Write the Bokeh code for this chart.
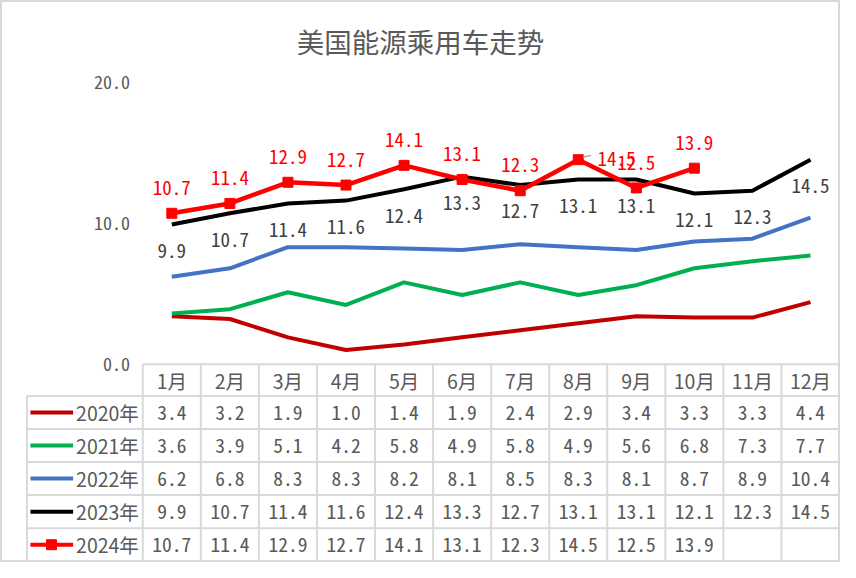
from bokeh.plotting import figure
from bokeh.models import Range1d
from bokeh.core.properties import value
from bokeh.embed import file_html
from bokeh.resources import INLINE

# ---------------- data ----------------
TITLE = "美国能源乘用车走势"
MONTHS = ["1月", "2月", "3月", "4月", "5月", "6月", "7月", "8月", "9月", "10月", "11月", "12月"]
YEARS = ["2020年", "2021年", "2022年", "2023年", "2024年"]
S2020 = [3.4, 3.2, 1.9, 1.0, 1.4, 1.9, 2.4, 2.9, 3.4, 3.3, 3.3, 4.4]
S2021 = [3.6, 3.9, 5.1, 4.2, 5.8, 4.9, 5.8, 4.9, 5.6, 6.8, 7.3, 7.7]
S2022 = [6.2, 6.8, 8.3, 8.3, 8.2, 8.1, 8.5, 8.3, 8.1, 8.7, 8.9, 10.4]
S2023 = [9.9, 10.7, 11.4, 11.6, 12.4, 13.3, 12.7, 13.1, 13.1, 12.1, 12.3, 14.5]
S2024 = [10.7, 11.4, 12.9, 12.7, 14.1, 13.1, 12.3, 14.5, 12.5, 13.9]
SERIES = [S2020, S2021, S2022, S2023, S2024]
Y_TICKS = [0, 10, 20]

# ---------------- style ----------------
COLORS = ["#C00000", "#00B050", "#4472C4", "#000000", "#FF0000"]
LINE_W = [4, 4, 4, 4, 4.5]
GRID_COLOR = "#D9D9D9"
TEXT_GRAY = "#595959"
LABEL_GRAY = "#404040"
CJK = value("Noto Sans CJK SC")
NUM = value("Noto Sans Mono CJK SC")

# ---------------- layout (reference pixel geometry, 856 x 578) ----------------
W, H = 840, 562
SX, OX = W / 856.0, 0.0     # reference px -> figure px
SY, OY = H / 578.0, 0.0
COL0, TABLE_RIGHT, TABLE_LEFT = 145.0, 855.0, 27.0
COLW = (TABLE_RIGHT - COL0) / 12
ZERO_Y, PX_PER_UNIT = 374.0, 14.5
HEADER_TOP, ROW0_TOP, ROW_H = 374.0, 406.7, 34.0
TABLE_BOTTOM = ROW0_TOP + 5 * ROW_H


def dx(rx):
    return (rx - COL0) / COLW + 0.5


def dy(ry):
    return (ZERO_Y - ry) / PX_PER_UNIT


def ux(px):
    return px / COLW


def uy(px):
    return px / PX_PER_UNIT


p = figure(
    width=W, height=H,
    x_range=Range1d(dx((0 - OX) / SX), dx((W - OX) / SX)),
    y_range=Range1d(dy((H - OY) / SY), dy((0 - OY) / SY)),
    output_backend="svg", toolbar_location=None,
    x_axis_location=None, y_axis_location=None, title=None,
    min_border=0,
)
p.grid.visible = False
p.outline_line_color = GRID_COLOR
p.outline_line_width = 3
p.background_fill_color = "white"
p.border_fill_color = "white"

# title
p.text(x=[dx(428)], y=[dy(41.5)], text=[TITLE], text_align="center", text_baseline="middle",
       text_font=CJK, text_font_size="27.5px", text_color=TEXT_GRAY)

# y-axis tick labels
p.text(x=[dx(132)] * len(Y_TICKS), y=Y_TICKS, text=[f"{t:.1f}" for t in Y_TICKS],
       text_align="right", text_baseline="middle", text_font=NUM, text_font_size="18px",
       text_color=TEXT_GRAY)

# table grid
hx0, hx1, hy0, hy1 = [], [], [], []
hx0.append(dx(COL0)); hx1.append(dx(TABLE_RIGHT)); hy0.append(dy(HEADER_TOP)); hy1.append(dy(HEADER_TOP))
for k in range(6):
    yy = dy(ROW0_TOP + k * ROW_H)
    hx0.append(dx(TABLE_LEFT)); hx1.append(dx(TABLE_RIGHT)); hy0.append(yy); hy1.append(yy)
hx0.append(dx(TABLE_LEFT)); hx1.append(dx(TABLE_LEFT)); hy0.append(dy(ROW0_TOP)); hy1.append(dy(TABLE_BOTTOM))
for j in range(13):
    xx = dx(COL0 + j * COLW)
    hx0.append(xx); hx1.append(xx); hy0.append(dy(HEADER_TOP)); hy1.append(dy(TABLE_BOTTOM))
p.segment(x0=hx0, y0=hy0, x1=hx1, y1=hy1, line_color=GRID_COLOR, line_width=2)

# header row
months_x = list(range(1, len(MONTHS) + 1))
p.text(x=months_x, y=[dy(HEADER_TOP + (ROW0_TOP - HEADER_TOP) / 2)] * len(MONTHS), text=MONTHS,
       text_align="center", text_baseline="middle", text_font=CJK, text_font_size="19.5px",
       text_color=TEXT_GRAY)

# series lines
for vals, col, lw in zip(SERIES, COLORS, LINE_W):
    xs = list(range(1, len(vals) + 1))
    p.line(xs, vals, line_color=col, line_width=lw, line_join="round")
p.scatter(list(range(1, len(S2024) + 1)), S2024, marker="square", size=10,
          fill_color=COLORS[4], line_color=COLORS[4])

# data labels 2023 (below)
x23 = list(range(1, len(S2023) + 1))
p.text(x=x23, y=[v - uy(27) for v in S2023], text=[f"{v:.1f}" for v in S2023],
       text_align="center", text_baseline="middle", text_font=NUM, text_font_size="19px",
       text_color=LABEL_GRAY)

# data labels 2024 (above; August label pushed to the right with a leader)
SHIFTED = 7
lx, ly, lt, la = [], [], [], []
for i, v in enumerate(S2024):
    if i == SHIFTED:
        lx.append(i + 1 + ux(19.5)); ly.append(v + uy(1)); la.append("left")
    else:
        lx.append(i + 1); ly.append(v + uy(26)); la.append("center")
    lt.append(f"{v:.1f}")
for align in ("center", "left"):
    idx = [k for k in range(len(lt)) if la[k] == align]
    p.text(x=[lx[k] for k in idx], y=[ly[k] for k in idx], text=[lt[k] for k in idx],
           text_align=align, text_baseline="middle", text_font=NUM, text_font_size="19px",
           text_color=COLORS[4])
vs = S2024[SHIFTED]
p.segment(x0=[SHIFTED + 1 + ux(5)], y0=[vs + uy(2.5)], x1=[SHIFTED + 1 + ux(13)], y1=[vs + uy(4.5)],
          line_color="#A6A6A6", line_width=1.5)

# table body
for r, (name, vals, col) in enumerate(zip(YEARS, SERIES, COLORS)):
    cy = dy(ROW0_TOP + (r + 0.5) * ROW_H)
    p.segment(x0=[dx(30.5)], y0=[cy], x1=[dx(74)], y1=[cy], line_color=col, line_width=4)
    if r == 4:
        p.scatter([dx(52)], [cy], marker="square", size=10, fill_color=col, line_color=col)
    p.text(x=[dx(77)], y=[cy], text=[name], text_align="left", text_baseline="middle",
           text_font=CJK, text_font_size="19.5px", text_color=TEXT_GRAY)
    p.text(x=list(range(1, len(vals) + 1)), y=[cy] * len(vals), text=[f"{v:.1f}" for v in vals],
           text_align="center", text_baseline="middle", text_font=NUM, text_font_size="19.5px",
           text_color=TEXT_GRAY)

open("out.html", "w").write(file_html(p, INLINE))
